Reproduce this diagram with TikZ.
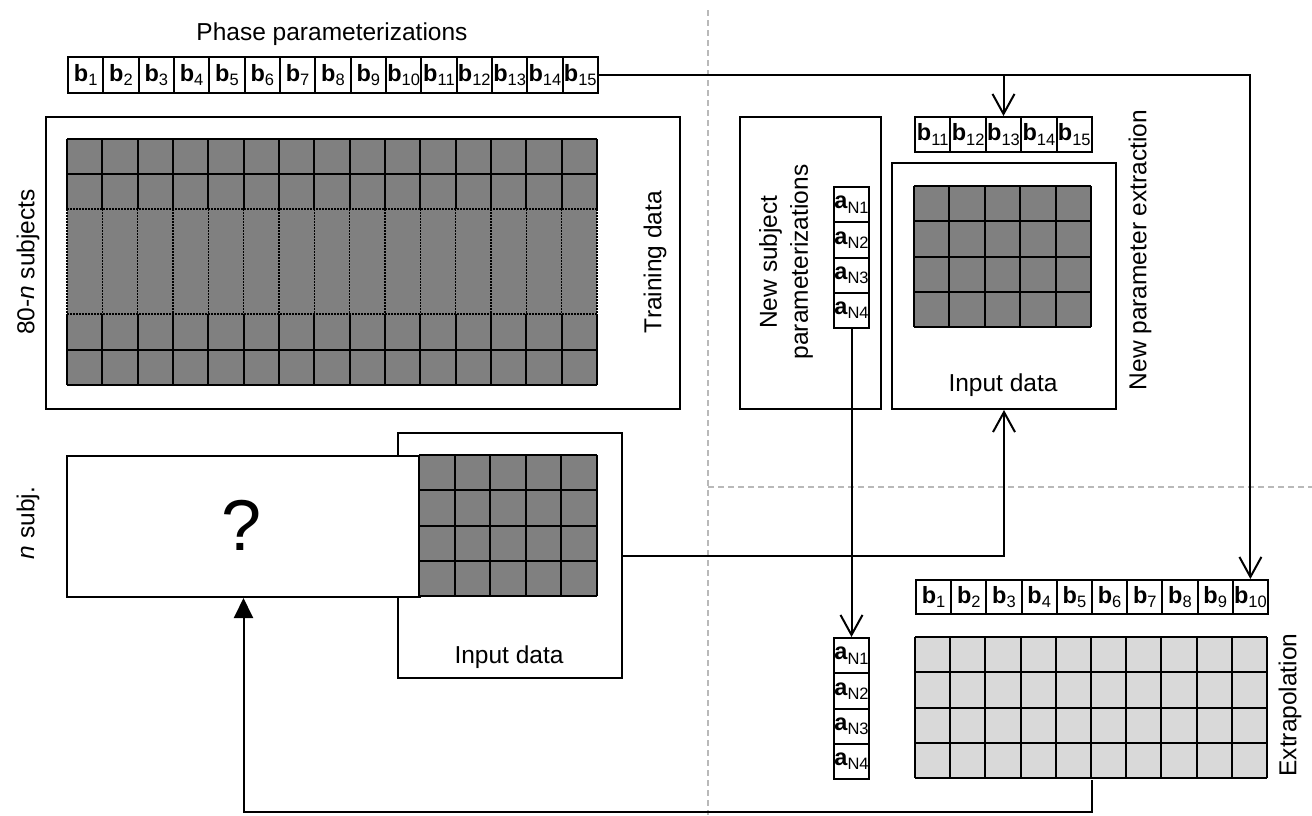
\documentclass[tikz,border=0pt]{standalone}
\usepackage{fontspec}
\setmainfont{Liberation Sans}
\usetikzlibrary{arrows.meta,calc}
\definecolor{dkgray}{RGB}{128,128,128}
\definecolor{ltgray}{RGB}{217,217,217}
\definecolor{sepgray}{RGB}{185,185,185}
\newcommand\bsub[2]{\textbf{#1}\raisebox{-0.35ex}{\fontsize{16.5}{16.5}\selectfont #2}}
\newcommand\cellgrid[7]{%
  \fill[#7] (#1,#2) rectangle ({#1+#3*#5},{#2+#4*#6});
  \foreach \k in {0,...,#3} \draw ({#1+\k*#5},#2) -- ({#1+\k*#5},{#2+#4*#6});
  \foreach \k in {0,...,#4} \draw (#1,{#2+\k*#6}) -- ({#1+#3*#5},{#2+\k*#6});
}
\begin{document}
\begin{tikzpicture}[x=1pt,y=-1pt,line width=2pt,
  lbl/.style={font=\fontsize{24.5}{31}\selectfont, inner sep=0},
  cellbox/.style={draw, line width=2pt, inner sep=0, font=\fontsize{23.5}{23.5}\selectfont, anchor=north west},
  frame/.style={draw, line width=2pt, inner sep=0, anchor=north west},
  area/.style={inner sep=0, anchor=north west},
  arr/.style={-{Straight Barb[length=20pt,width=22pt]}},
  farr/.style={-{Triangle[length=20pt,width=19pt]}},
  sep/.style={draw=sepgray, line width=2pt, dash pattern=on 6pt off 4pt},
  dots/.style={line width=1.5pt, dash pattern=on 1.5pt off 1.5pt}]

\useasboundingbox (0,0) rectangle (1312,815);

% separators
\draw[sep] (708,10) -- (708,815);
\draw[sep] (708,487) -- (1312,487);

% title and top parameter row
\node[lbl] (title) at (332,34) {Phase parameterizations};
\foreach \i in {1,...,15}
  \node[cellbox, minimum width=35.33pt, minimum height=36pt] (b\i) at ({67+(\i-1)*35.33},56) {\bsub{b}{\i}};

% training data
\node[frame, minimum width=634pt, minimum height=292pt] (train) at (45,116) {};
\fill[dkgray] (67,139) rectangle (597,385);
\foreach \k in {0,...,15} {
  \draw ({67+\k*35.33},139) -- ({67+\k*35.33},209);
  \draw ({67+\k*35.33},314) -- ({67+\k*35.33},385);
  \draw[dots] ({67+\k*35.33},209) -- ({67+\k*35.33},314);
}
\draw (67,139) -- (597,139) (67,174) -- (597,174) (67,350) -- (597,350) (67,385) -- (597,385);
\draw[dots] (67,209) -- (597,209) (67,314) -- (597,314);
\node[lbl, rotate=90] (trainlbl) at (655,262) {Training data};
\node[lbl, rotate=90] (subjlbl) at (28,262) {80-{\itshape n} subjects};
\node[lbl, rotate=90] (nlbl) at (28,523) {{\itshape n} subj.};

% n subjects: unknown + input data
\node[frame, minimum width=224pt, minimum height=245pt] (inp) at (397,432) {};
\node[lbl] (inplbl) at (509,657) {Input data};
\node[frame, fill=white, minimum width=353pt, minimum height=141pt] (q) at (66,455) {};
\node[font=\fontsize{72}{72}\selectfont, inner sep=0] (qm) at (242,525) {?};
\cellgrid{419}{455}{5}{4}{35.6}{35.25}{dkgray}

% new subject parameterizations
\node[frame, minimum width=141pt, minimum height=292pt] (newsub) at (739,116) {};
\node[lbl, rotate=90, align=center] (nslbl) at (786,262) {New subject\\parameterizations};
\foreach \i in {1,...,4}
  \node[cellbox, minimum width=35pt, minimum height=35.25pt] (a\i) at (833,{186+(\i-1)*35.25}) {\bsub{a}{N\i}};

% new parameter extraction
\foreach \i in {11,...,15}
  \node[cellbox, minimum width=35.4pt, minimum height=35pt] (c\i) at ({914+(\i-11)*35.4},116) {\bsub{b}{\i}};
\node[frame, minimum width=224pt, minimum height=246pt] (newpar) at (891,162) {};
\cellgrid{914}{186}{5}{4}{35.4}{35.25}{dkgray}
\node[lbl] (nplbl) at (1003,385) {Input data};
\node[lbl, rotate=90] (npelbl) at (1140,250) {New parameter extraction};

% extrapolation
\foreach \i in {1,...,10}
  \node[cellbox, minimum width=35.2pt, minimum height=34pt] (d\i) at ({915+(\i-1)*35.2},579) {\bsub{b}{\i}};
\foreach \i in {1,...,4}
  \node[cellbox, minimum width=35pt, minimum height=35.25pt] (e\i) at (833,{637+(\i-1)*35.25}) {\bsub{a}{N\i}};
\node[area, minimum width=352pt, minimum height=141pt] (exgrid) at (915,637) {};
\cellgrid{915}{637}{10}{4}{35.2}{35.25}{ltgray}
\node[lbl, rotate=90] (exlbl) at (1290,705) {Extrapolation};

% connectors
\draw[arr] (b15.east) -| (d10.north);
\draw[arr] (c13.north |- b15.east) -- (c13.north);
\draw[arr] (a4.south) -- (e1.north);
\draw[arr] (inp.east) -| (newpar.south);
\coordinate (botc) at (1091,812);
\draw[farr] (exgrid.south) -- (exgrid.south |- botc) -| (q.south);
\end{tikzpicture}
\end{document}
